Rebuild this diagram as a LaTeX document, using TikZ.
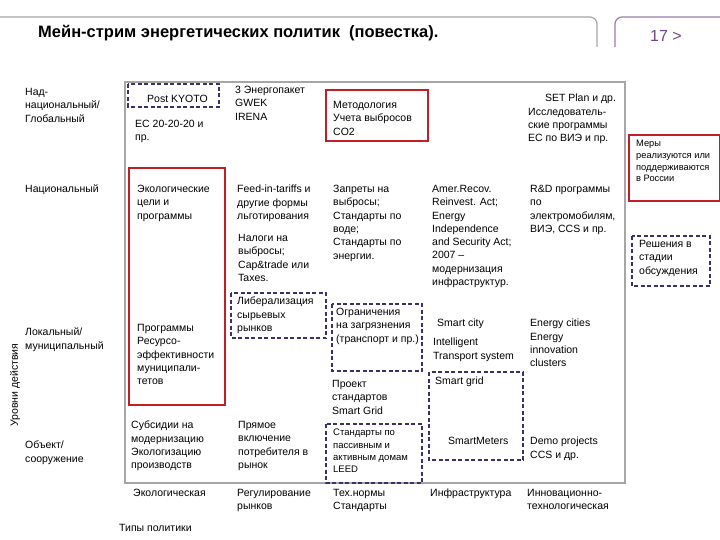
\documentclass[tikz,border=0pt]{standalone}
\usepackage{fontspec}
\setmainfont{Liberation Sans}
\begin{document}
\begin{tikzpicture}[x=1pt,y=-1pt,
  txt/.style={anchor=north west,align=left,inner sep=0pt,font=\fontsize{10.5}{13.3}\selectfont},
  redbox/.style={draw=redc,line width=1.6pt},
  dashbox/.style={draw=bluec,line width=1.4pt,dash pattern=on 4pt off 2.5pt},
  frame/.style={draw=gray!70,line width=1.2pt}]
\definecolor{redc}{RGB}{195,30,40}
\definecolor{bluec}{RGB}{55,50,110}
\definecolor{purp}{RGB}{110,70,130}
\useasboundingbox (0,0) rectangle (720,540);
% header frames
\draw[frame,rounded corners=7pt] (0,17) -- (597,17) -- (597,47);
\draw[draw=purp!70,line width=1.2pt,rounded corners=7pt] (615,47) -- (615,17) -- (720,17);
\node[anchor=west,inner sep=0pt,font=\bfseries\fontsize{16.5}{18}\selectfont] (title) at (38,33) {Мейн-стрим энергетических политик\ \ (повестка).};
\node[anchor=west,inner sep=0pt,text=purp,font=\fontsize{16}{18}\selectfont] (pg) at (650,36) {17 >};
% main frame
\draw[frame] (125,82) rectangle (625,483);
% boxes
\draw[dashbox] (128,84) rectangle (219,107);
\draw[redbox] (326,90) rectangle (428,141);
\draw[redbox] (129,168) rectangle (225,405);
\draw[dashbox] (231,293) rectangle (326,338);
\draw[dashbox] (332,304) rectangle (422,371);
\draw[dashbox] (429,372) rectangle (523,460);
\draw[dashbox] (326,424) rectangle (422,483);
\draw[redbox] (629,135) rectangle (720,201);
\draw[dashbox] (632,236) rectangle (710,286);
% left labels
\node[txt] (l1) at (25,88) {Над-\\национальный/\\Глобальный};
\node[txt] (l2) at (25,185) {Национальный};
\node[txt] (l3) at (25,328) {Локальный/\\муниципальный};
\node[txt] (l4) at (25,441) {Объект/\\сооружение};
\node[rotate=90,inner sep=0pt,font=\fontsize{10.5}{12}\selectfont] (lv) at (15,385) {Уровни действия};
% row 1
\node[txt] (pk) at (147,95) {Post KYOTO};
\node[txt] (ec) at (135,120) {ЕС 20-20-20 и\\пр.};
\node[txt] (ep) at (235,86) {3 Энергопакет\\GWEK\\IRENA};
\node[txt] (mt) at (333,101) {Методология\\Учета выбросов\\CO2};
\node[txt] (set) at (528,94) {\hspace*{1.6em}SET Plan и др.\\Исследователь-\\ские программы\\ЕС по ВИЭ и пр.};
% row 2
\node[txt] (eco) at (137,185) {Экологические\\цели и\\программы};
\node[txt] (fit) at (237,185) {Feed-in-tariffs и\\другие формы\\льготирования};
\node[txt] (nal) at (238,234) {Налоги на\\выбросы;\\Cap\&trade или\\Taxes.};
\node[txt] (zap) at (333,185) {Запреты на\\выбросы;\\Стандарты по\\воде;\\Стандарты по\\энергии.};
\node[txt] (am) at (432,185) {Amer.Recov.\\Reinvest. Act;\\Energy\\Independence\\and Security Act;\\2007 --\\модернизация\\инфраструктур.};
\node[txt] (rd) at (530,185) {R\&D программы\\по\\электромобилям,\\ВИЭ, CCS и пр.};
% row 3
\node[txt] (lib) at (237,297) {Либерализация\\сырьевых\\рынков};
\node[txt] (prg) at (137,324) {Программы\\Ресурсо-\\эффективности\\муниципали-\\тетов};
\node[txt] (ogr) at (336,308) {Ограничения\\на загрязнения\\(транспорт и пр.)};
\node[txt] (sc) at (437,319) {Smart city};
\node[txt] (its) at (433,338) {Intelligent\\Transport system};
\node[txt] (ecit) at (530,319) {Energy cities\\Energy\\innovation\\clusters};
\node[txt] (sg) at (435,377) {Smart grid};
\node[txt] (pr) at (332,380) {Проект\\стандартов\\Smart Grid};
% row 4
\node[txt] (sub) at (131,421) {Субсидии на\\модернизацию\\Экологизацию\\производств};
\node[txt] (pry) at (238,421) {Прямое\\включение\\потребителя в\\рынок};
\node[txt,font=\fontsize{9.5}{12.2}\selectfont] (std) at (333,429) {Стандарты по\\пассивным и\\активным домам\\LEED};
\node[txt] (sm) at (448,437) {SmartMeters};
\node[txt] (demo) at (530,437) {Demo projects\\CCS и др.};
% bottom
\node[txt] (b1) at (133,489) {Экологическая};
\node[txt] (b2) at (237,489) {Регулирование\\рынков};
\node[txt] (b3) at (333,489) {Тех.нормы\\Стандарты};
\node[txt] (b4) at (430,489) {Инфраструктура};
\node[txt] (b5) at (527,489) {Инновационно-\\технологическая};
\node[txt] (tp) at (119,524) {Типы политики};
% right
\node[txt,font=\fontsize{9.3}{11.8}\selectfont] (mer) at (636,140) {Меры\\реализуются или\\поддерживаются\\в России};
\node[txt] (res) at (639,240) {Решения в\\стадии\\обсуждения};
\end{tikzpicture}
\end{document}
